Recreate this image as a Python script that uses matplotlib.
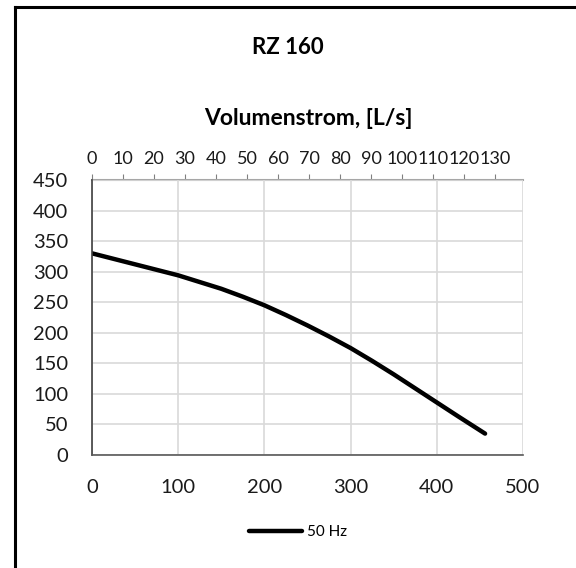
import matplotlib
matplotlib.use("Agg")

import matplotlib.pyplot as plt
from matplotlib.lines import Line2D

# volume flow in m3/h (bottom axis) and pressure (left axis)
flow_m3h = [0, 25, 50, 75, 100, 125, 150, 175, 200, 225, 250, 275,
            300, 325, 350, 375, 400, 425, 456]
pressure = [330, 321, 312, 303, 294, 283, 272, 259, 245, 229, 212, 194,
            175, 154, 132, 109, 86, 63, 35]

x_ticks = [0, 100, 200, 300, 400, 500]
y_ticks = [0, 50, 100, 150, 200, 250, 300, 350, 400, 450]
top_ticks = [0, 10, 20, 30, 40, 50, 60, 70, 80, 90, 100, 110, 120, 130]

series_label = "50 Hz"
title = "RZ 160"
top_label = "Volumenstrom, [L/s]"

plt.rcParams["font.family"] = ["Lato", "DejaVu Sans"]

W, H = 576, 568
fig = plt.figure(figsize=(W / 100, H / 100), dpi=100)

ax = fig.add_axes([92 / W, 1 - 455 / H, 431 / W, 275 / H])
ax.plot(flow_m3h, pressure, color="black", lw=3.2, solid_capstyle="round",
        solid_joinstyle="round", label=series_label)

ax.set_xlim(0, 500)
ax.set_ylim(0, 450)
ax.set_xticks(x_ticks)
ax.set_yticks(y_ticks)
ax.grid(True, color="#d9d9d9", lw=1.2)
ax.set_axisbelow(True)
ax.tick_params(length=0, labelsize=14.5, labelcolor="#1a1a1a")
ax.tick_params(axis="x", pad=17)
ax.tick_params(axis="y", pad=17)

for s in ["top", "right"]:
    ax.spines[s].set_visible(False)
ax.spines["left"].set_color("#404040")
ax.spines["bottom"].set_color("#595959")
ax.spines["left"].set_linewidth(1.2)
ax.spines["bottom"].set_linewidth(1.2)

# secondary axis in L/s
sec = ax.secondary_xaxis("top", functions=(lambda v: v / 3.6, lambda v: v * 3.6))
sec.set_xticks(top_ticks)
sec.tick_params(direction="out", length=4, color="#808080", labelsize=13,
                labelcolor="#1a1a1a", pad=5)
sec.spines["top"].set_color("#a6a6a6")
sec.spines["top"].set_linewidth(1.5)

fig.text(288 / W, 1 - 47 / H, title, ha="center", va="center",
         fontsize=16, fontweight="bold")
fig.text(308 / W, 1 - 118 / H, top_label, ha="center", va="center",
         fontsize=16.5, fontweight="bold")

fig.legend(loc="center", bbox_to_anchor=(298 / W, 1 - 532 / H), frameon=False,
           fontsize=11, handlelength=3.5, handletextpad=0.3)

# outer frame (left and top edges visible)
fig.add_artist(Line2D([15 / W, 15 / W], [0, 1 - 7 / H], color="black", lw=2.2,
                      transform=fig.transFigure))
fig.add_artist(Line2D([15 / W, 1], [1 - 7 / H, 1 - 7 / H], color="black", lw=2.2,
                      transform=fig.transFigure))

fig.savefig("out.png", dpi=100)
plt.close(fig)
